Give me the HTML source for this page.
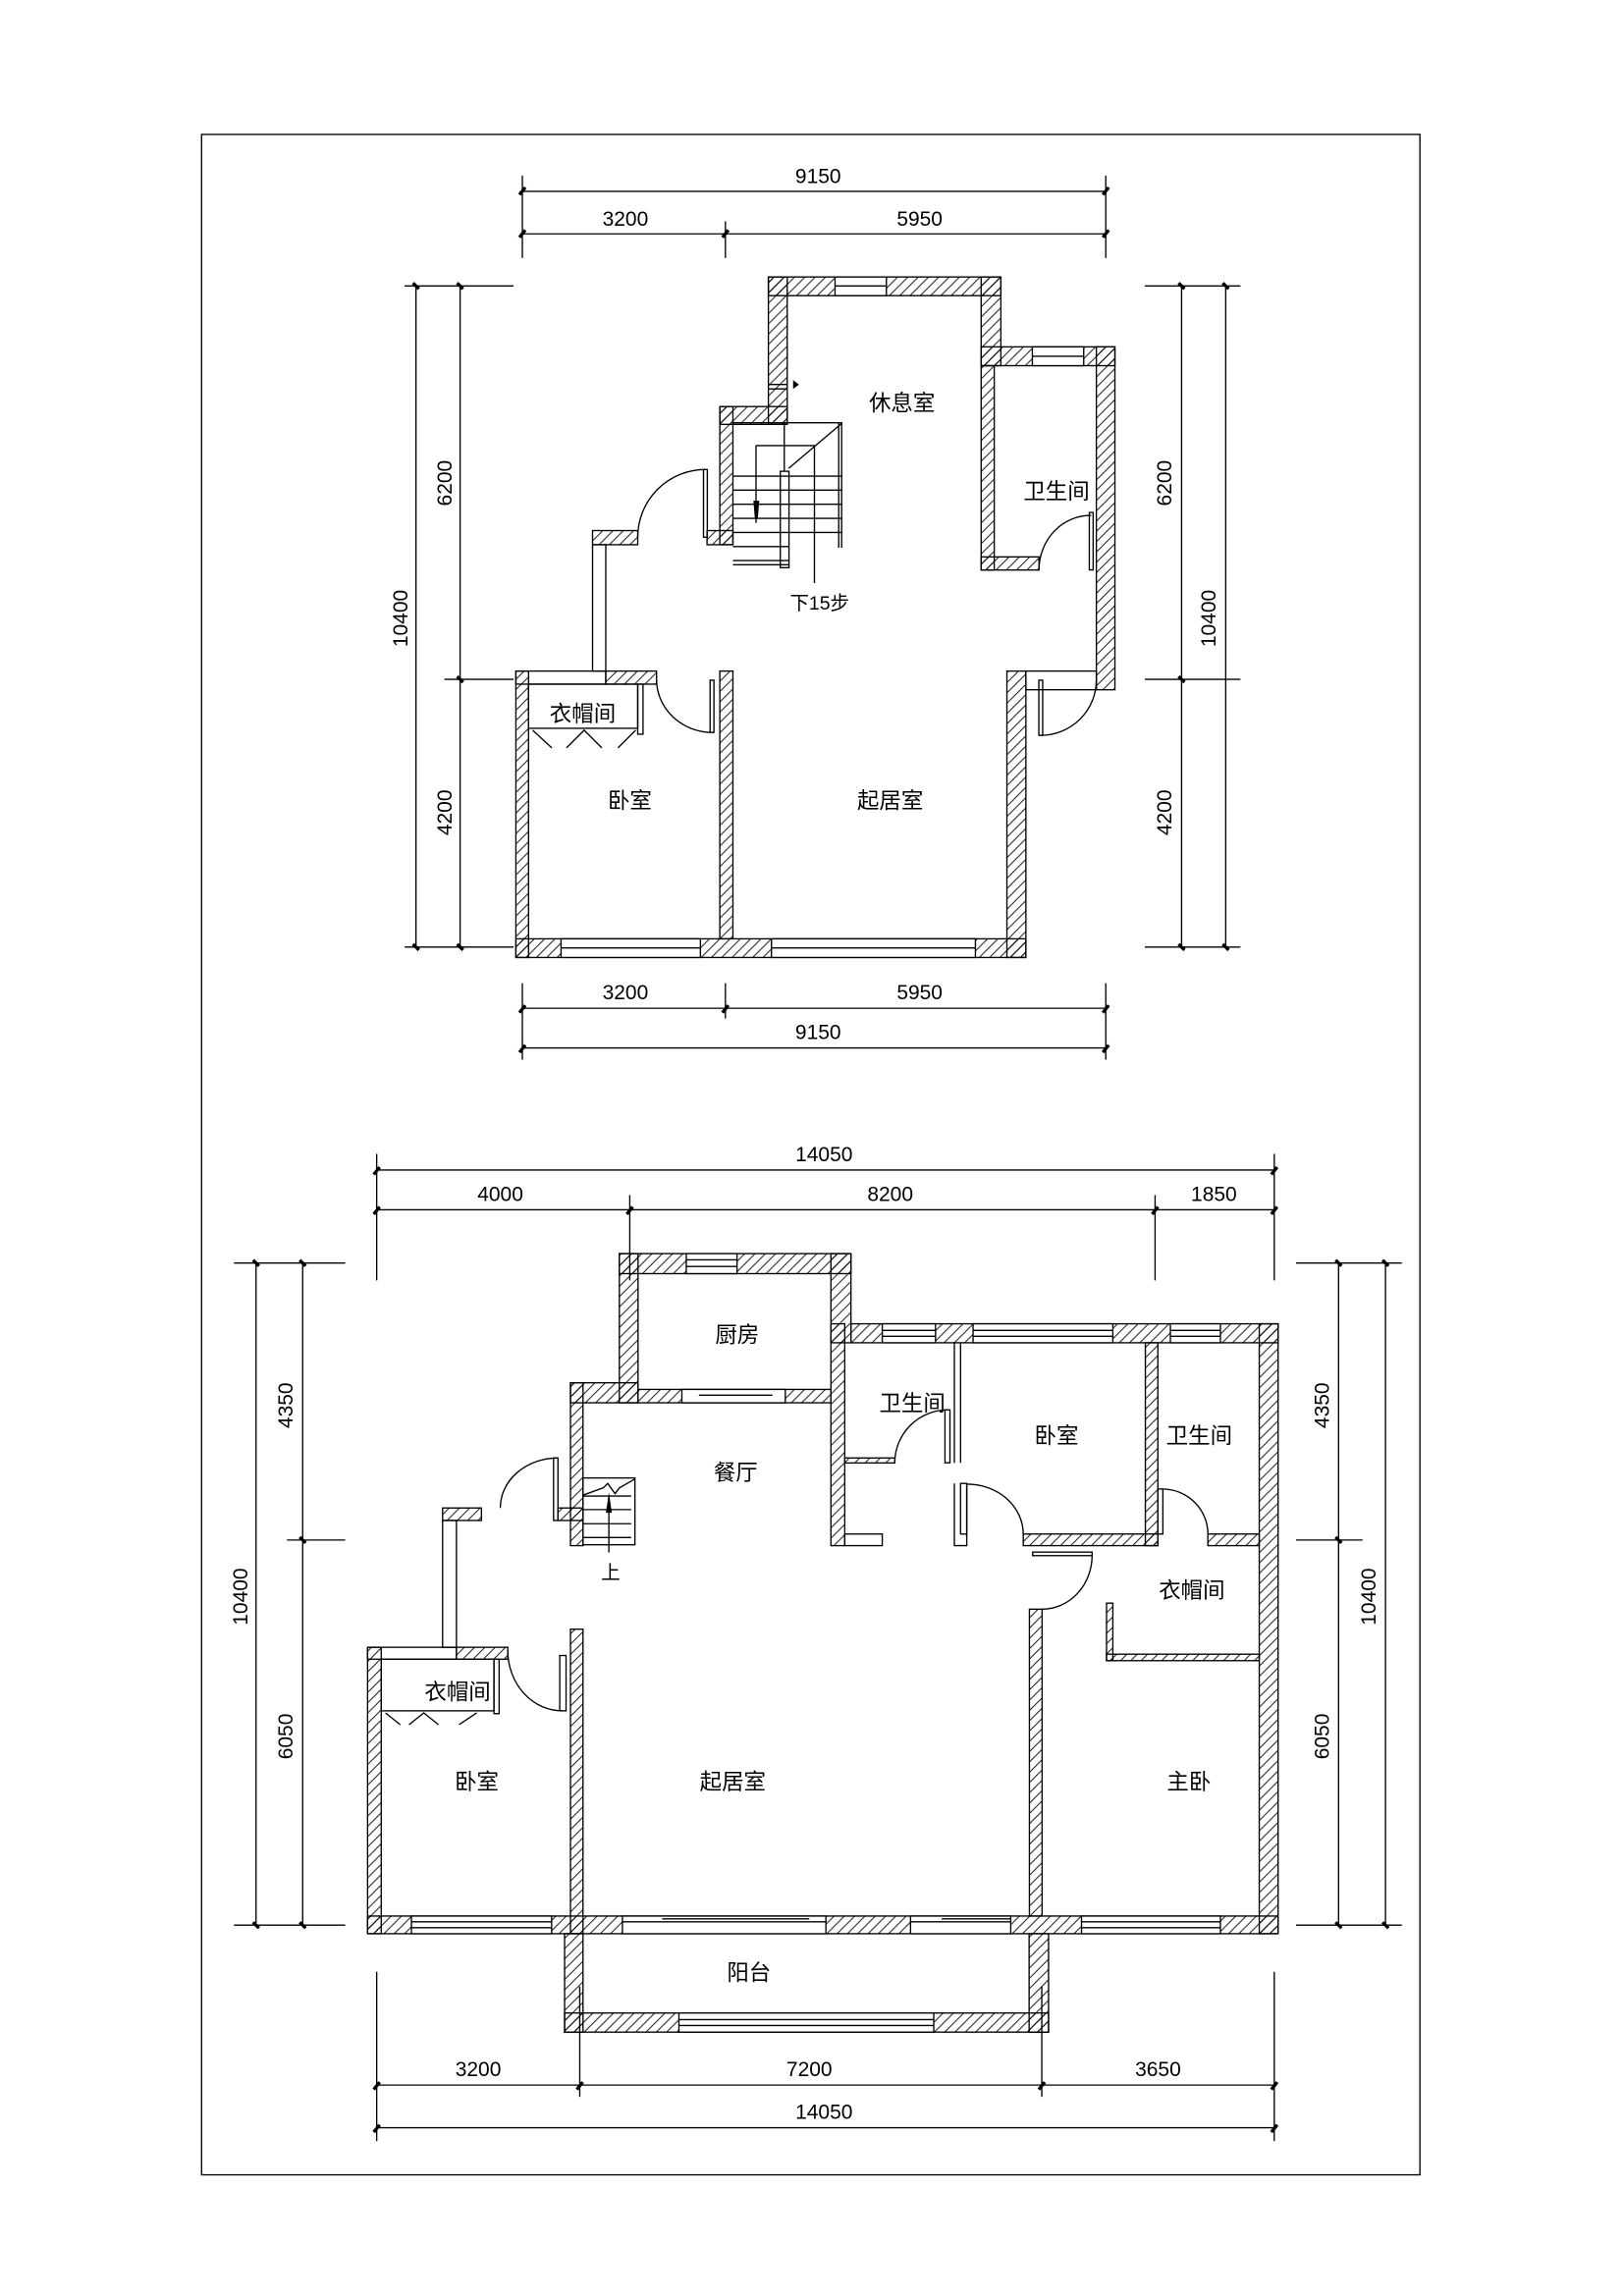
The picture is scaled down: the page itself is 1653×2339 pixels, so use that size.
<!DOCTYPE html>
<html><head><meta charset="utf-8"><style>
html,body{margin:0;padding:0;background:#fff}
svg{display:block}
text{font-family:"Liberation Sans","Noto Sans CJK SC",sans-serif;fill:#000}
</style></head><body>
<svg width="1653" height="2339" viewBox="0 0 1103 1560" xmlns="http://www.w3.org/2000/svg">
<defs>
<pattern id="h" patternUnits="userSpaceOnUse" width="7" height="7">
<path d="M0,7 L7,0 M-1,1 L1,-1 M6,8 L8,6" stroke="#000" stroke-width="0.6"/>
</pattern>
</defs>
<g fill="none" stroke="#000" stroke-width="0.9">
<rect x="137" y="91" width="828" height="1387"/>
</g>

<!-- ===== TOP PLAN DIMENSIONS ===== -->
<g stroke="#000" stroke-width="0.9" fill="none">
<line x1="355" y1="129.7" x2="751.5" y2="129.7"/>
<line x1="355" y1="158.6" x2="751.5" y2="158.6"/>
<line x1="355" y1="119" x2="355" y2="175"/>
<line x1="493" y1="150" x2="493" y2="175"/>
<line x1="751.5" y1="119" x2="751.5" y2="175"/>
<line x1="355" y1="685" x2="751.5" y2="685"/>
<line x1="355" y1="712" x2="751.5" y2="712"/>
<line x1="355" y1="668" x2="355" y2="720"/>
<line x1="493" y1="668" x2="493" y2="692"/>
<line x1="751.5" y1="668" x2="751.5" y2="720"/>
<line x1="282.7" y1="194" x2="282.7" y2="643.4"/>
<line x1="312.7" y1="194" x2="312.7" y2="643.4"/>
<line x1="275" y1="194" x2="349" y2="194"/>
<line x1="302" y1="461.4" x2="349" y2="461.4"/>
<line x1="275" y1="643.4" x2="349" y2="643.4"/>
<line x1="803" y1="194" x2="803" y2="643.4"/>
<line x1="833" y1="194" x2="833" y2="643.4"/>
<line x1="778" y1="194" x2="843" y2="194"/>
<line x1="778" y1="461.4" x2="843" y2="461.4"/>
<line x1="778" y1="643.4" x2="843" y2="643.4"/>
</g>
<g stroke="#000" stroke-width="2.2">
<path d="M353,132 l4,-5 M491,161 l4,-5 M353,161 l4,-5 M749.5,132 l4,-5 M749.5,161 l4,-5"/>
<path d="M353,688 l4,-5 M491,688 l4,-5 M749.5,688 l4,-5 M353,715 l4,-5 M749.5,715 l4,-5"/>
<path d="M280.7,192 l4,4 M310.7,192 l4,4 M310.7,459.4 l4,4 M280.7,641.4 l4,4 M310.7,641.4 l4,4"/>
<path d="M801,192 l4,4 M831,192 l4,4 M801,459.4 l4,4 M801,641.4 l4,4 M831,641.4 l4,4"/>
</g>
<g font-size="14" text-anchor="middle">
<text x="556" y="124">9150</text>
<text x="425" y="153">3200</text>
<text x="625" y="153">5950</text>
<text x="425" y="679">3200</text>
<text x="625" y="679">5950</text>
<text x="556" y="706">9150</text>
<text transform="translate(277,420) rotate(-90)">10400</text>
<text transform="translate(307,328) rotate(-90)">6200</text>
<text transform="translate(307,552) rotate(-90)">4200</text>
<text transform="translate(796,328) rotate(-90)">6200</text>
<text transform="translate(796,552) rotate(-90)">4200</text>
<text transform="translate(826,420) rotate(-90)">10400</text>
</g>

<!-- ===== TOP PLAN WALLS ===== -->
<g fill="url(#h)" stroke="#000" stroke-width="0.9">
<rect x="522.2" y="187.9" width="158" height="12.7"/>
<rect x="522.2" y="187.9" width="12.8" height="100.2"/>
<rect x="666.8" y="187.9" width="13.4" height="60.3"/>
<rect x="666.8" y="235.4" width="90.9" height="12.8"/>
<rect x="745.1" y="235.4" width="12.6" height="233.1"/>
<rect x="666.8" y="248.2" width="8.9" height="138.9"/>
<rect x="666.8" y="378.2" width="39.3" height="8.9"/>
<rect x="489.2" y="276" width="45.8" height="12.1"/>
<rect x="489.2" y="276" width="8.9" height="93.9"/>
<rect x="480.5" y="360.3" width="17.6" height="9.6"/>
<rect x="402.7" y="360.3" width="30.7" height="9.6"/>
<rect x="411.7" y="455.8" width="34.5" height="8.9"/>
<rect x="350.6" y="455.8" width="8.6" height="194.7"/>
<rect x="350.6" y="637.8" width="346.6" height="12.7"/>
<rect x="489.2" y="455.8" width="8.9" height="182"/>
<rect x="684.3" y="455.8" width="12.9" height="194.7"/>
</g>
<g fill="#fff" stroke="#000" stroke-width="0.9">
<rect x="567.5" y="187.9" width="34.9" height="12.7"/>
<rect x="701.6" y="235.4" width="34.9" height="12.8"/>
<rect x="381.3" y="637.8" width="94.7" height="12.7"/>
<rect x="524.3" y="637.8" width="138.6" height="12.7"/>
</g>
<g fill="none" stroke="#000" stroke-width="0.9">
<path d="M567.5,194 H602.4 M701.6,241.8 H736.5 M381.3,644 H476 M524.3,644 H662.9"/>
<rect x="402.7" y="369.9" width="9" height="85.9"/>
<rect x="350.6" y="455.8" width="61.1" height="8.9"/>
<rect x="697.2" y="455.8" width="47.9" height="12.7"/>
<!-- doors -->
<rect x="482.6" y="462" width="2.6" height="35.5"/>
<path d="M446.2,462 A38,36 0 0 0 484,497.5"/>
<rect x="478.1" y="318.8" width="2.6" height="46"/>
<path d="M433.4,364.8 A46,46 0 0 1 479.4,318.8"/>
<rect x="740.3" y="348" width="2.6" height="39"/>
<path d="M706.1,387 A35,37 0 0 1 741.6,350"/>
<rect x="706" y="462" width="2.6" height="37.5"/>
<path d="M745.1,462 A38,37.5 0 0 1 707.3,499.5"/>
<!-- closet -->
<rect x="359.2" y="464.7" width="74.2" height="30"/>
<rect x="433.4" y="464.7" width="3.6" height="34"/>
<path d="M362,496 L375,508 M385,508 L397,496 L409,508 M420,508 L432,496"/>
<!-- stair -->
<path d="M498.1,287 H572 V372 M570,287 V372"/>
<path d="M498.1,323.3 H572 M498.1,332.8 H572 M498.1,342.4 H572 M498.1,352 H572 M498.1,361.6 H572 M498.1,371.2 H536 M498.1,380.7 H536"/>
<rect x="530.3" y="320" width="5.9" height="65.5"/>
<path d="M498.1,383.5 H536.2"/>
<path d="M536,318 L572,287.5 M533,287 V320 M513.8,302.5 H553.5 V396 M513.8,302.5 V355"/>
<path d="M522.2,261 H535 M522.2,264 H535"/>
</g>
<path d="M512,340 h4 l-1,12 h-2 z M539,258 l4,3 -4,3 z" fill="#000"/>
<g font-size="15" text-anchor="middle">
<text x="613" y="279">休息室</text>
<text x="718" y="339">卫生间</text>
<text x="557" y="414" font-size="13">下15步</text>
<text x="396" y="490">衣帽间</text>
<text x="428" y="549">卧室</text>
<text x="605" y="549">起居室</text>
</g>

<!-- ===== LOWER PLAN DIMENSIONS ===== -->
<g stroke="#000" stroke-width="0.9" fill="none">
<line x1="256" y1="795" x2="866" y2="795"/>
<line x1="256" y1="822" x2="866" y2="822"/>
<line x1="256" y1="784" x2="256" y2="870"/>
<line x1="428" y1="812" x2="428" y2="870"/>
<line x1="785" y1="812" x2="785" y2="870"/>
<line x1="866" y1="784" x2="866" y2="870"/>
<line x1="256" y1="1417" x2="866" y2="1417"/>
<line x1="256" y1="1446" x2="866" y2="1446"/>
<line x1="256" y1="1340" x2="256" y2="1455"/>
<line x1="394" y1="1350" x2="394" y2="1425"/>
<line x1="708" y1="1350" x2="708" y2="1425"/>
<line x1="866" y1="1340" x2="866" y2="1455"/>
<line x1="174" y1="858.2" x2="174" y2="1308.3"/>
<line x1="205.7" y1="858.2" x2="205.7" y2="1308.3"/>
<line x1="159" y1="858.2" x2="234.6" y2="858.2"/>
<line x1="195" y1="1046.5" x2="234.6" y2="1046.5"/>
<line x1="159" y1="1308.3" x2="234.6" y2="1308.3"/>
<line x1="909.7" y1="858.2" x2="909.7" y2="1308.3"/>
<line x1="941.6" y1="858.2" x2="941.6" y2="1308.3"/>
<line x1="880.8" y1="858.2" x2="952.7" y2="858.2"/>
<line x1="880.8" y1="1046.5" x2="926" y2="1046.5"/>
<line x1="880.8" y1="1308.3" x2="952.7" y2="1308.3"/>
</g>
<g stroke="#000" stroke-width="2.2">
<path d="M254,798 l4,-5 M864,798 l4,-5 M254,825 l4,-5 M426,825 l4,-5 M783,825 l4,-5 M864,825 l4,-5"/>
<path d="M254,1420 l4,-5 M392,1420 l4,-5 M706,1420 l4,-5 M864,1420 l4,-5 M254,1449 l4,-5 M864,1449 l4,-5"/>
<path d="M172,856.2 l4,4 M203.7,856.2 l4,4 M203.7,1044.5 l4,4 M172,1306.3 l4,4 M203.7,1306.3 l4,4"/>
<path d="M907.7,856.2 l4,4 M939.6,856.2 l4,4 M907.7,1044.5 l4,4 M907.7,1306.3 l4,4 M939.6,1306.3 l4,4"/>
</g>
<g font-size="14" text-anchor="middle">
<text x="560" y="789">14050</text>
<text x="340" y="816">4000</text>
<text x="605" y="816">8200</text>
<text x="825" y="816">1850</text>
<text x="325" y="1411">3200</text>
<text x="550" y="1411">7200</text>
<text x="787" y="1411">3650</text>
<text x="560" y="1440">14050</text>
<text transform="translate(168,1085) rotate(-90)">10400</text>
<text transform="translate(199,955) rotate(-90)">4350</text>
<text transform="translate(199,1180) rotate(-90)">6050</text>
<text transform="translate(903,955) rotate(-90)">4350</text>
<text transform="translate(903,1180) rotate(-90)">6050</text>
<text transform="translate(935,1085) rotate(-90)">10400</text>
</g>

<!-- ===== LOWER PLAN WALLS ===== -->
<g fill="url(#h)" stroke="#000" stroke-width="0.9">
<rect x="420.9" y="851.8" width="157.4" height="13.6"/>
<rect x="420.9" y="851.8" width="12.7" height="101.4"/>
<rect x="564.7" y="851.8" width="13.6" height="60.6"/>
<rect x="564.7" y="899.5" width="9.4" height="150.8"/>
<rect x="387.7" y="939.6" width="45.9" height="13.6"/>
<rect x="433.6" y="944.1" width="131.1" height="9.1"/>
<rect x="387.7" y="939.6" width="8.5" height="110.7"/>
<rect x="578.3" y="899.5" width="290.3" height="12.9"/>
<rect x="855.8" y="899.5" width="12.8" height="414.6"/>
<rect x="574.1" y="990.7" width="34" height="3.4"/>
<rect x="778.4" y="912.4" width="8.5" height="137.9"/>
<rect x="695.4" y="1042.4" width="91.5" height="7.9"/>
<rect x="820.9" y="1042.4" width="34.9" height="7.9"/>
<rect x="752" y="1124.1" width="103.8" height="4.4"/>
<rect x="752" y="1089.4" width="4.3" height="39.1"/>
<rect x="699.6" y="1093.5" width="8.6" height="208.6"/>
<rect x="249.8" y="1302.1" width="618.8" height="12"/>
<rect x="249.8" y="1119.4" width="9.3" height="194.7"/>
<rect x="310.2" y="1119.4" width="34.9" height="8.1"/>
<rect x="300.8" y="1024.7" width="26.4" height="8.5"/>
<rect x="379.2" y="1024.7" width="17" height="8.5"/>
<rect x="387.7" y="1107.1" width="8.5" height="207"/>
<rect x="383.7" y="1314.1" width="12.5" height="67"/>
<rect x="699.4" y="1314.1" width="13.2" height="67"/>
<rect x="383.7" y="1368" width="328.9" height="13"/>
</g>
<g fill="#fff" stroke="#000" stroke-width="0.9">
<rect x="466.4" y="851.8" width="34.5" height="13.6"/>
<rect x="463.4" y="944.1" width="70.3" height="9.1"/>
<rect x="599.6" y="899.5" width="36.2" height="12.9"/>
<rect x="661.3" y="899.5" width="95" height="12.9"/>
<rect x="795.4" y="899.5" width="34" height="12.9"/>
<rect x="279.6" y="1302.1" width="95.3" height="12"/>
<rect x="423" y="1302.1" width="138.3" height="12"/>
<rect x="618.8" y="1302.1" width="68.1" height="12"/>
<rect x="735" y="1302.1" width="94.4" height="12"/>
<rect x="461.4" y="1368" width="173.2" height="13"/>
</g>
<g fill="none" stroke="#000" stroke-width="0.9">
<path d="M466.4,856 H500.9 M466.4,860.5 H500.9 M599.6,904 H635.8 M599.6,908 H635.8 M661.3,904 H756.3 M661.3,908 H756.3 M795.4,904 H829.4 M795.4,908 H829.4"/>
<path d="M279.6,1306 H374.9 M279.6,1310 H374.9 M735,1306 H829.4 M735,1310 H829.4 M461.4,1372.5 H634.6 M461.4,1376.5 H634.6"/>
<path d="M423,1306 H561.3 M450,1304 H500 M500,1304 H550 M618.8,1306 H686.9 M640,1304 H686.9 M475,948 H525"/>
<rect x="574.1" y="1042.4" width="25.5" height="7.9"/>
<path d="M648.6,912.4 V994 M652.8,912.4 V994 M648.6,1008 V1050.3 H657 V1008"/>
<rect x="300.8" y="1033.2" width="9.4" height="86.2"/>
<rect x="249.8" y="1119.4" width="60.4" height="8.1"/>
<!-- doors -->
<rect x="376.2" y="990.7" width="3" height="42.5"/>
<path d="M340,1024.7 A39,34 0 0 1 379,990.7"/>
<rect x="380.4" y="1125" width="4.3" height="37.6"/>
<path d="M345.1,1121.7 A37,41 0 0 0 382.5,1162.6"/>
<rect x="642.2" y="958" width="3.4" height="36"/>
<path d="M608.1,994 A36,36 0 0 1 644,958"/>
<rect x="652.8" y="1008" width="4.2" height="34.4"/>
<path d="M657,1008.5 A38,34 0 0 1 695.4,1042.4"/>
<rect x="786.9" y="1011.8" width="3.4" height="30.6"/>
<path d="M790,1011.8 A31,30.6 0 0 1 820.9,1042.4"/>
<rect x="701.8" y="1054.7" width="40.4" height="2.4"/>
<path d="M742.2,1057 A34,36.5 0 0 1 708.2,1093.5"/>
<!-- closet lower -->
<rect x="259.1" y="1127.5" width="76.6" height="35.1"/>
<rect x="335.7" y="1127.5" width="3.5" height="37"/>
<path d="M262,1164 L272,1172 M278,1172 L288,1164 L298,1172 M312,1172 L324,1164"/>
<!-- stair lower -->
<rect x="396.2" y="1004.3" width="35.3" height="45.4"/>
<path d="M396.2,1016.6 H429 M396.2,1025.8 H429 M396.2,1035.4 H429 M396.2,1044.8 H429 M413.8,1016 V1055"/>
<path d="M396.2,1016 L410,1011 L413,1008 L418,1015 L421,1011 L431.5,1005"/>
</g>
<path d="M411.8,1028 L413.8,1014 L415.8,1028 Z" fill="#000"/>
<g font-size="15" text-anchor="middle">
<text x="501" y="912">厨房</text>
<text x="620" y="959">卫生间</text>
<text x="718" y="981">卧室</text>
<text x="815" y="981">卫生间</text>
<text x="500" y="1006">餐厅</text>
<text x="415" y="1073" font-size="13">上</text>
<text x="810" y="1086">衣帽间</text>
<text x="311" y="1155">衣帽间</text>
<text x="324" y="1216">卧室</text>
<text x="498" y="1216">起居室</text>
<text x="808" y="1216">主卧</text>
<text x="509" y="1346">阳台</text>
</g>
</svg>
</body></html>
